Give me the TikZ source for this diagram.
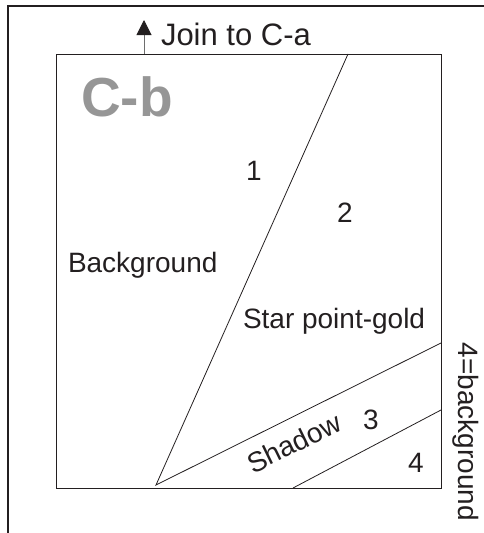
\documentclass[tikz,border=0pt]{standalone}
\usepackage{fontspec}
\setmainfont{Liberation Sans}
\usetikzlibrary{arrows.meta}
\definecolor{ink}{RGB}{35,31,32}
\definecolor{cbgray}{RGB}{150,150,150}
\definecolor{stemgray}{RGB}{110,110,110}
\begin{document}
\begin{tikzpicture}[x=1pt,y=-1pt,
  lbl/.style={inner sep=0pt,outer sep=0pt,text=ink,font=\fontsize{28}{28}\selectfont},
  edge/.style={draw=ink,line width=0.8pt}]
\useasboundingbox (0,0) rectangle (484,533);
% outer frame (top and left only)
\draw[ink,line width=1.2pt] (8,533) -- (8,6) -- (484,6);
% inner box
\coordinate (tl) at (56,54);
\coordinate (br) at (441,488);
\draw[ink,line width=1pt] (tl) rectangle (br);
% dividing lines
\coordinate (apex) at (156,485);
\coordinate (top1) at (348,54);
\coordinate (r2) at (441,343);
\coordinate (b3) at (293,488);
\coordinate (r3) at (441,410);
\draw[edge] (top1) -- (apex) -- (r2);
\draw[edge] (b3) -- (r3);
% arrow
\coordinate (as) at (144,54);
\coordinate (ae) at (144,20);
\draw[stemgray,line width=1pt,-{Triangle[length=15pt,width=15pt,color=ink]}] (as) -- (ae);
% texts
\node[lbl,anchor=base west,font=\fontsize{31}{31}\selectfont] (join) at (161,45) {Join to C-a};
\node[inner sep=0pt,anchor=base west,text=cbgray,font=\fontsize{55}{55}\selectfont\bfseries] (cb) at (81,116) {C-b};
\node[lbl,anchor=base] (n1) at (254,180) {1};
\node[lbl,anchor=base] (n2) at (345,222) {2};
\node[lbl,anchor=base west] (bg) at (68,272) {Background};
\node[lbl,anchor=base west] (sp) at (243,328) {Star point-gold};
\node[lbl,anchor=base west,rotate=26] (sh) at (253,474) {Shadow};
\node[lbl,anchor=base] (n3) at (371,429) {3};
\node[lbl,anchor=base] (n4) at (416,472) {4};
\node[lbl,anchor=base,rotate=-90] (bg4) at (458,432) {4=background};
\end{tikzpicture}
\end{document}
